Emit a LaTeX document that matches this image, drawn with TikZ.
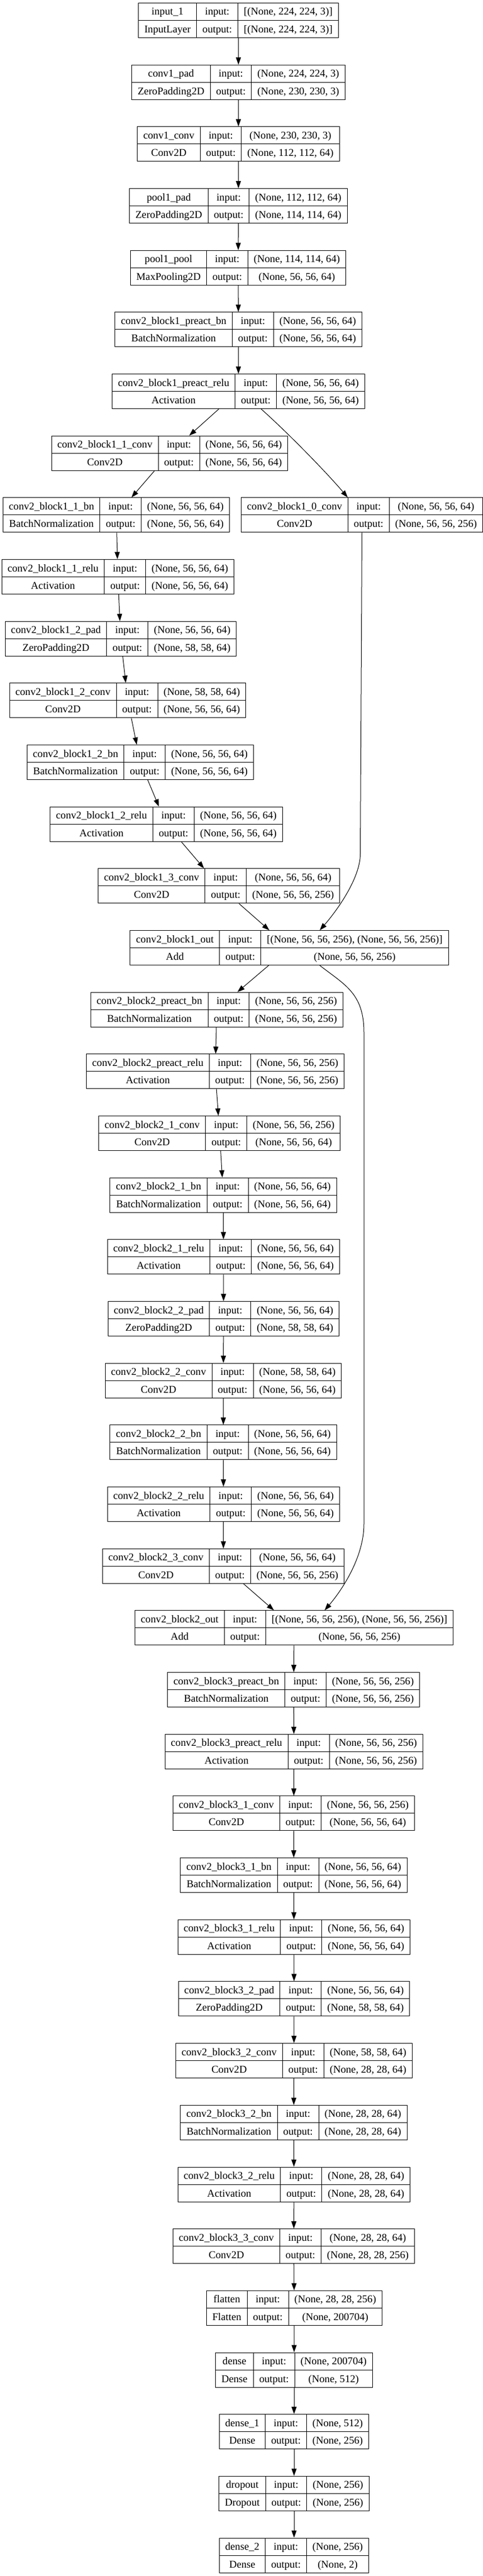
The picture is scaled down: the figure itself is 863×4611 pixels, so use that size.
\documentclass[tikz,border=0pt]{standalone}
\usepackage{fontspec}
\setmainfont{Liberation Serif}
\usetikzlibrary{arrows.meta}
\setlength{\tabcolsep}{10.5pt}
\setlength{\arrayrulewidth}{1pt}
\newcommand{\rs}{\rule[-9pt]{0pt}{30.5pt}}
\newcommand{\layer}[4]{\begin{tabular}{c|c|c}\rs#1 & input: & #3\\ \hline \rs#2 & output: & #4\end{tabular}}
\begin{document}
\begin{tikzpicture}[x=1pt,y=-1pt]
        \tikzstyle{every node}+=[inner sep=0pt]
        \tikzstyle{lbox}=[draw, line width=1pt, font=\fontsize{18.67}{22}\selectfont]
        \tikzstyle{flow}=[-{Triangle[length=13pt,width=9pt]}, line width=1pt]
        \useasboundingbox (0,0) rectangle (863,4611);
        \fill [white] (0,0) rectangle (863,4611);
        % stem
        \node [lbox] (input1) at (426.5,36.5) {\layer{input\_1}{InputLayer}{[(None, 224, 224, 3)]}{[(None, 224, 224, 3)]}};
        \node [lbox] (c1pad) at (426.5,147.2) {\layer{conv1\_pad}{ZeroPadding2D}{(None, 224, 224, 3)}{(None, 230, 230, 3)}};
        \node [lbox] (c1conv) at (426.5,257.8) {\layer{conv1\_conv}{Conv2D}{(None, 230, 230, 3)}{(None, 112, 112, 64)}};
        \node [lbox] (p1pad) at (426.5,368.5) {\layer{pool1\_pad}{ZeroPadding2D}{(None, 112, 112, 64)}{(None, 114, 114, 64)}};
        \node [lbox] (p1pool) at (426,479.2) {\layer{pool1\_pool}{MaxPooling2D}{(None, 114, 114, 64)}{(None, 56, 56, 64)}};
        % block 1
        \node [lbox] (b1pbn) at (426.5,589.8) {\layer{conv2\_block1\_preact\_bn}{BatchNormalization}{(None, 56, 56, 64)}{(None, 56, 56, 64)}};
        \node [lbox] (b1prelu) at (426.5,700.5) {\layer{conv2\_block1\_preact\_relu}{Activation}{(None, 56, 56, 64)}{(None, 56, 56, 64)}};
        \node [lbox] (b1c1) at (303.5,811.2) {\layer{conv2\_block1\_1\_conv}{Conv2D}{(None, 56, 56, 64)}{(None, 56, 56, 64)}};
        \node [lbox] (b1bn1) at (208,921.9) {\layer{conv2\_block1\_1\_bn}{BatchNormalization}{(None, 56, 56, 64)}{(None, 56, 56, 64)}};
        \node [lbox] (b1c0) at (647.5,921.9) {\layer{conv2\_block1\_0\_conv}{Conv2D}{(None, 56, 56, 64)}{(None, 56, 56, 256)}};
        \node [lbox] (b1relu1) at (210.8,1032.5) {\layer{conv2\_block1\_1\_relu}{Activation}{(None, 56, 56, 64)}{(None, 56, 56, 64)}};
        \node [lbox] (b1pad2) at (216,1143.2) {\layer{conv2\_block1\_2\_pad}{ZeroPadding2D}{(None, 56, 56, 64)}{(None, 58, 58, 64)}};
        \node [lbox] (b1c2) at (228.5,1253.9) {\layer{conv2\_block1\_2\_conv}{Conv2D}{(None, 58, 58, 64)}{(None, 56, 56, 64)}};
        \node [lbox] (b1bn2) at (251,1364.5) {\layer{conv2\_block1\_2\_bn}{BatchNormalization}{(None, 56, 56, 64)}{(None, 56, 56, 64)}};
        \node [lbox] (b1relu2) at (297.5,1475.2) {\layer{conv2\_block1\_2\_relu}{Activation}{(None, 56, 56, 64)}{(None, 56, 56, 64)}};
        \node [lbox] (b1c3) at (391.8,1585.9) {\layer{conv2\_block1\_3\_conv}{Conv2D}{(None, 56, 56, 64)}{(None, 56, 56, 256)}};
        \node [lbox] (b1out) at (517.5,1696.6) {\layer{conv2\_block1\_out}{Add}{[(None, 56, 56, 256), (None, 56, 56, 256)]}{(None, 56, 56, 256)}};
        % block 2
        \node [lbox] (b2pbn) at (387.8,1807.2) {\layer{conv2\_block2\_preact\_bn}{BatchNormalization}{(None, 56, 56, 256)}{(None, 56, 56, 256)}};
        \node [lbox] (b2prelu) at (385,1917.9) {\layer{conv2\_block2\_preact\_relu}{Activation}{(None, 56, 56, 256)}{(None, 56, 56, 256)}};
        \node [lbox] (b2c1) at (392.8,2028.6) {\layer{conv2\_block2\_1\_conv}{Conv2D}{(None, 56, 56, 256)}{(None, 56, 56, 64)}};
        \node [lbox] (b2bn1) at (399.5,2139.2) {\layer{conv2\_block2\_1\_bn}{BatchNormalization}{(None, 56, 56, 64)}{(None, 56, 56, 64)}};
        \node [lbox] (b2relu1) at (399.8,2249.9) {\layer{conv2\_block2\_1\_relu}{Activation}{(None, 56, 56, 64)}{(None, 56, 56, 64)}};
        \node [lbox] (b2pad2) at (399.9,2360.6) {\layer{conv2\_block2\_2\_pad}{ZeroPadding2D}{(None, 56, 56, 64)}{(None, 58, 58, 64)}};
        \node [lbox] (b2c2) at (399.5,2471.2) {\layer{conv2\_block2\_2\_conv}{Conv2D}{(None, 58, 58, 64)}{(None, 56, 56, 64)}};
        \node [lbox] (b2bn2) at (399.5,2581.9) {\layer{conv2\_block2\_2\_bn}{BatchNormalization}{(None, 56, 56, 64)}{(None, 56, 56, 64)}};
        \node [lbox] (b2relu2) at (399.8,2692.6) {\layer{conv2\_block2\_2\_relu}{Activation}{(None, 56, 56, 64)}{(None, 56, 56, 64)}};
        \node [lbox] (b2c3) at (399.5,2803.3) {\layer{conv2\_block2\_3\_conv}{Conv2D}{(None, 56, 56, 64)}{(None, 56, 56, 256)}};
        \node [lbox] (b2out) at (526,2913.9) {\layer{conv2\_block2\_out}{Add}{[(None, 56, 56, 256), (None, 56, 56, 256)]}{(None, 56, 56, 256)}};
        % block 3
        \node [lbox] (b3pbn) at (525.3,3024.6) {\layer{conv2\_block3\_preact\_bn}{BatchNormalization}{(None, 56, 56, 256)}{(None, 56, 56, 256)}};
        \node [lbox] (b3prelu) at (525.8,3135.3) {\layer{conv2\_block3\_preact\_relu}{Activation}{(None, 56, 56, 256)}{(None, 56, 56, 256)}};
        \node [lbox] (b3c1) at (525.5,3245.9) {\layer{conv2\_block3\_1\_conv}{Conv2D}{(None, 56, 56, 256)}{(None, 56, 56, 64)}};
        \node [lbox] (b3bn1) at (525.4,3356.6) {\layer{conv2\_block3\_1\_bn}{BatchNormalization}{(None, 56, 56, 64)}{(None, 56, 56, 64)}};
        \node [lbox] (b3relu1) at (525.9,3467.3) {\layer{conv2\_block3\_1\_relu}{Activation}{(None, 56, 56, 64)}{(None, 56, 56, 64)}};
        \node [lbox] (b3pad2) at (526,3577.9) {\layer{conv2\_block3\_2\_pad}{ZeroPadding2D}{(None, 56, 56, 64)}{(None, 58, 58, 64)}};
        \node [lbox] (b3c2) at (525.8,3688.6) {\layer{conv2\_block3\_2\_conv}{Conv2D}{(None, 58, 58, 64)}{(None, 28, 28, 64)}};
        \node [lbox] (b3bn2) at (525.4,3799.3) {\layer{conv2\_block3\_2\_bn}{BatchNormalization}{(None, 28, 28, 64)}{(None, 28, 28, 64)}};
        \node [lbox] (b3relu2) at (525.9,3910) {\layer{conv2\_block3\_2\_relu}{Activation}{(None, 28, 28, 64)}{(None, 28, 28, 64)}};
        \node [lbox] (b3c3) at (525.5,4020.6) {\layer{conv2\_block3\_3\_conv}{Conv2D}{(None, 28, 28, 64)}{(None, 28, 28, 256)}};
        % head
        \node [lbox] (flat) at (526.3,4131.3) {\layer{flatten}{Flatten}{(None, 28, 28, 256)}{(None, 200704)}};
        \node [lbox] (dense) at (526,4242) {\layer{dense}{Dense}{(None, 200704)}{(None, 512)}};
        \node [lbox] (dense1) at (526,4352.6) {\layer{dense\_1}{Dense}{(None, 512)}{(None, 256)}};
        \node [lbox] (drop) at (526,4463.3) {\layer{dropout}{Dropout}{(None, 256)}{(None, 256)}};
        \node [lbox] (dense2) at (526,4574) {\layer{dense\_2}{Dense}{(None, 256)}{(None, 2)}};
        % main chain
        \draw [flow] (input1) -- (c1pad);
        \draw [flow] (c1pad) -- (c1conv);
        \draw [flow] (c1conv) -- (p1pad);
        \draw [flow] (p1pad) -- (p1pool);
        \draw [flow] (p1pool) -- (b1pbn);
        \draw [flow] (b1pbn) -- (b1prelu);
        \draw [flow] (b1prelu) -- (b1c1);
        \draw [flow] (b1c1) -- (b1bn1);
        \draw [flow] (b1bn1) -- (b1relu1);
        \draw [flow] (b1relu1) -- (b1pad2);
        \draw [flow] (b1pad2) -- (b1c2);
        \draw [flow] (b1c2) -- (b1bn2);
        \draw [flow] (b1bn2) -- (b1relu2);
        \draw [flow] (b1relu2) -- (b1c3);
        \draw [flow] (b1c3) -- (b1out);
        \draw [flow] (b1out) -- (b2pbn);
        \draw [flow] (b2pbn) -- (b2prelu);
        \draw [flow] (b2prelu) -- (b2c1);
        \draw [flow] (b2c1) -- (b2bn1);
        \draw [flow] (b2bn1) -- (b2relu1);
        \draw [flow] (b2relu1) -- (b2pad2);
        \draw [flow] (b2pad2) -- (b2c2);
        \draw [flow] (b2c2) -- (b2bn2);
        \draw [flow] (b2bn2) -- (b2relu2);
        \draw [flow] (b2relu2) -- (b2c3);
        \draw [flow] (b2c3) -- (b2out);
        \draw [flow] (b2out) -- (b3pbn);
        \draw [flow] (b3pbn) -- (b3prelu);
        \draw [flow] (b3prelu) -- (b3c1);
        \draw [flow] (b3c1) -- (b3bn1);
        \draw [flow] (b3bn1) -- (b3relu1);
        \draw [flow] (b3relu1) -- (b3pad2);
        \draw [flow] (b3pad2) -- (b3c2);
        \draw [flow] (b3c2) -- (b3bn2);
        \draw [flow] (b3bn2) -- (b3relu2);
        \draw [flow] (b3relu2) -- (b3c3);
        \draw [flow] (b3c3) -- (flat);
        \draw [flow] (flat) -- (dense);
        \draw [flow] (dense) -- (dense1);
        \draw [flow] (dense1) -- (drop);
        \draw [flow] (drop) -- (dense2);
        % shortcuts
        \draw [flow] ([xshift=40.5pt]b1prelu.south) .. controls +(45,40) and +(-40,-47) .. ([xshift=-25.5pt]b1c0.north);
        \draw [flow] (b1c0.south) -- ++(-3,575) .. controls +(0,45) and +(28,-32) .. ([xshift=54.5pt]b1out.north);
        \draw [flow] ([xshift=54.5pt]b1out.south) .. controls +(45,35) and +(0,-70) .. ++(79,120) -- ++(0,880) .. controls +(0,60) and +(30,-35) .. ([xshift=54.7pt]b2out.north);
\end{tikzpicture}
\end{document}
